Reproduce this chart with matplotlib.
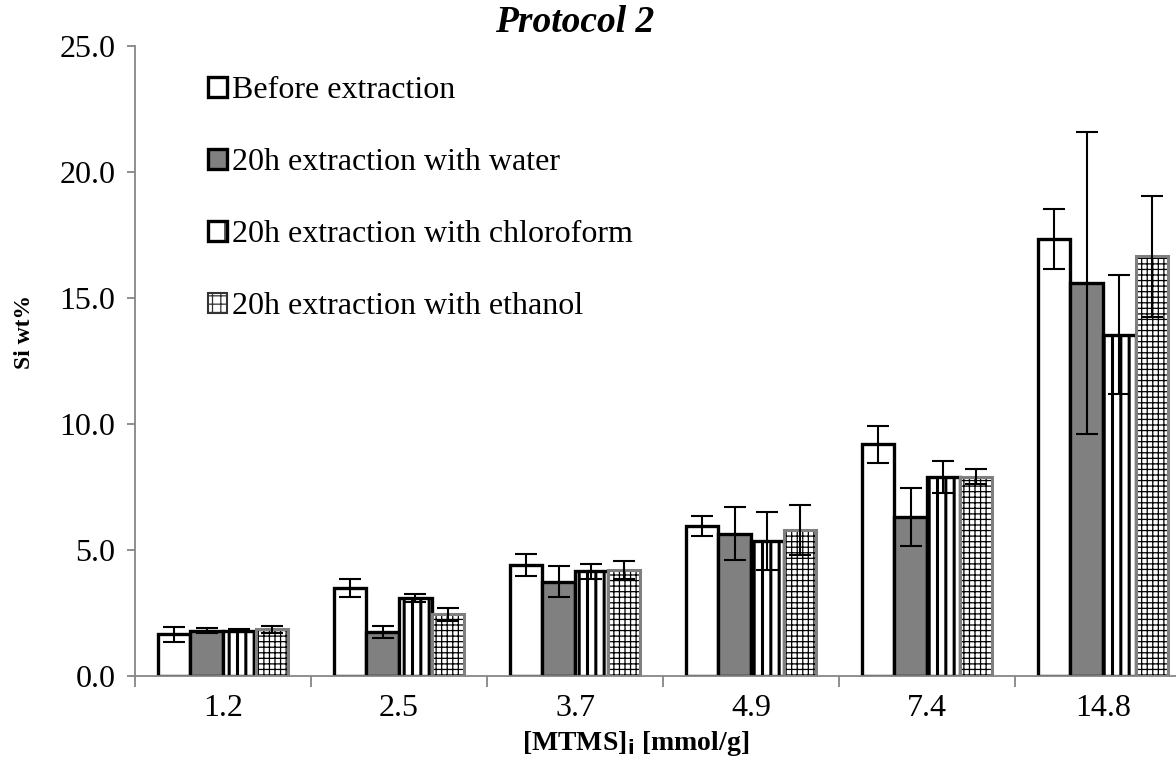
import matplotlib
matplotlib.use("Agg")
import matplotlib.pyplot as plt
from matplotlib.patches import Patch
import numpy as np

categories = ["1.2", "2.5", "3.7", "4.9", "7.4", "14.8"]
series = ["Before extraction", "20h extraction with water",
          "20h extraction with chloroform", "20h extraction with ethanol"]
before = [1.65, 3.5, 4.4, 5.95, 9.2, 17.35]
before_err = [0.3, 0.35, 0.45, 0.4, 0.73, 1.2]
water = [1.8, 1.75, 3.75, 5.65, 6.3, 15.6]
water_err = [0.1, 0.25, 0.6, 1.05, 1.15, 6.0]
chloro = [1.8, 3.1, 4.15, 5.35, 7.9, 13.55]
chloro_err = [0.05, 0.15, 0.3, 1.15, 0.63, 2.35]
ethanol = [1.85, 2.45, 4.2, 5.8, 7.9, 16.65]
ethanol_err = [0.15, 0.25, 0.35, 1.0, 0.3, 2.4]
yticks = [0, 5, 10, 15, 20, 25]

plt.rcParams['font.family'] = ['Liberation Serif', 'DejaVu Serif']

fig = plt.figure(figsize=(11.76, 7.63), dpi=100)
ax = fig.add_axes([0.1148, 0.114, 0.898, 0.8257])

x = np.arange(len(categories))
w = 0.185
offs = np.array([-1.5, -0.5, 0.5, 1.5]) * w
ekw = dict(ecolor='black', elinewidth=1.5, capsize=8, capthick=1.5)

ax.bar(x + offs[0], before, w, color='white', edgecolor='black', linewidth=2.4,
       yerr=before_err, error_kw=ekw, zorder=2)
ax.bar(x + offs[1], water, w, color='#808080', edgecolor='black', linewidth=2.4,
       yerr=water_err, error_kw=ekw, zorder=2)
plt.rcParams['hatch.linewidth'] = 2.2
b3 = ax.bar(x + offs[2], chloro, w, color='white', edgecolor='black', linewidth=2.4,
            hatch='||', zorder=2)
for p in b3:
    if hasattr(p, 'set_hatch_linewidth'):
        p.set_hatch_linewidth(2.2)
ax.errorbar(x + offs[2], chloro, yerr=chloro_err, fmt='none', zorder=3, **ekw)
plt.rcParams['hatch.linewidth'] = 0.9
b4 = ax.bar(x + offs[3], ethanol, w, color='white', edgecolor='black', linewidth=0,
            hatch='+++', zorder=2)
for p in b4:
    if hasattr(p, 'set_hatch_linewidth'):
        p.set_hatch_linewidth(0.9)
ax.bar(x + offs[3], ethanol, w, fill=False, edgecolor='#7f7f7f', linewidth=2.2, zorder=2.5)
ax.errorbar(x + offs[3], ethanol, yerr=ethanol_err, fmt='none', zorder=3, **ekw)

ax.set_xlim(-0.5, len(categories) - 0.5)
ax.set_ylim(0, 25)
ax.set_yticks(yticks)
ax.set_yticklabels([f"{v:.1f}" for v in yticks], fontsize=23)
ax.set_xticks(x)
ax.set_xticklabels(categories, fontsize=23)
ax.set_xticks(np.arange(len(categories) + 1) - 0.5, minor=True)
ax.tick_params(axis='x', which='major', length=0, pad=13)
ax.tick_params(axis='x', which='minor', length=8, width=1.3, color='#868686', direction='out')
ax.tick_params(axis='y', length=6, width=1.3, color='#868686', direction='out', pad=8)
for s in ['top', 'right']:
    ax.spines[s].set_visible(False)
for s in ['left', 'bottom']:
    ax.spines[s].set_color('#868686')
    ax.spines[s].set_linewidth(1.3)

handles = [
    Patch(facecolor='white', edgecolor='black', linewidth=2.4),
    Patch(facecolor='#808080', edgecolor='black', linewidth=2.4),
    Patch(facecolor='white', edgecolor='black', linewidth=2.4, hatch='|'),
    Patch(facecolor='white', edgecolor='#333333', linewidth=1.5, hatch='++'),
]
fig.legend(handles, series, loc='upper left', bbox_to_anchor=(208/1176, 1 - 76/763),
           frameon=False, fontsize=23, handlelength=0.6, handleheight=0.6,
           handletextpad=0.15, labelspacing=1.35, borderpad=0, borderaxespad=0)

fig.text(575/1176, 1 - 23/763, "Protocol 2", fontsize=27, fontweight='bold',
         fontstyle='italic', ha='center', va='center')
fig.text(25/1176, 1 - 332/763, "Si wt%", fontsize=17, fontweight='bold',
         rotation=90, ha='center', va='center')
fig.text(636/1176, 1 - 744/763, r"[MTMS]$_\mathbf{i}$ [mmol/g]", fontsize=20,
         fontweight='bold', ha='center', va='center')

fig.savefig("out.png", dpi=100)
